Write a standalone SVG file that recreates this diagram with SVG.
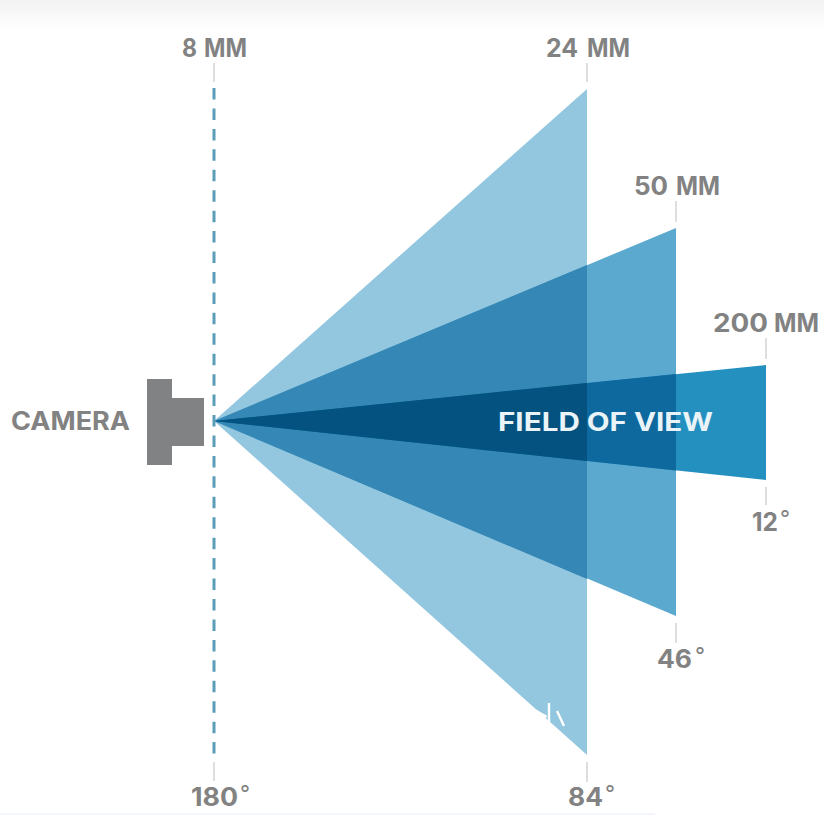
<svg xmlns="http://www.w3.org/2000/svg" width="824" height="815" viewBox="0 0 824 815">
<style>
.l{font-family:Inter,"Liberation Sans",sans-serif;font-weight:700;font-size:25px;fill:#828282}
.t{stroke:#d6d6d6;stroke-width:1.6;fill:none}
.d{font-size:22px;font-weight:400}
</style>
<defs><linearGradient id="top" x1="0" y1="0" x2="0" y2="1"><stop offset="0" stop-color="#f2f2f2"/><stop offset="1" stop-color="#ffffff"/></linearGradient></defs>
<rect width="824" height="815" fill="#ffffff"/>
<rect width="824" height="30" fill="url(#top)"/>
<rect y="813" width="655" height="2" fill="#f3f6fe"/>
<g id="fov-24mm"><polygon points="214,421 587,89 587,755" fill="#93c7df"/></g>
<g id="fov-50mm"><polygon points="214,421 676,228 676,616" fill="#5ca9cf"/><polygon points="214,421 587,265 587,579" fill="#3587b5"/></g>
<g id="fov-200mm"><polygon points="214,421 766,365 766,480" fill="#2490c0"/><polygon points="214,421 676,374 676,470.5" fill="#0e699f"/><polygon points="214,421 587,383 587,461" fill="#03527f"/></g>
<g id="artifact" fill="none" stroke="#ffffff"><path stroke-width="2.4" d="M549,703V722M557,711L564,726"/><path stroke-width="5" d="M528,708L546,718"/></g>
<g id="connectors">
<line x1="214" y1="88" x2="214" y2="755" stroke="#5b9db8" stroke-width="3" stroke-dasharray="11.5 8.94"/>
<path class="t" d="M214,63V82M587,63V82M676,201V222M766,338V359M766,487V505M676,623V643M587,762V782M214,762V781"/>
</g>
<g id="camera"><path d="M147,379H172V398H204V446H172V465H147Z" fill="#808283"/>
<text class="l" x="11" y="430" textLength="119" lengthAdjust="spacingAndGlyphs">CAMERA</text></g>
<g id="label-8mm"><text class="l" x="182" y="57" textLength="15" lengthAdjust="spacingAndGlyphs">8</text><text class="l" x="204" y="57" textLength="43" lengthAdjust="spacingAndGlyphs">MM</text></g>
<g id="label-24mm"><text class="l" x="546" y="57" textLength="32" lengthAdjust="spacingAndGlyphs">24</text><text class="l" x="587" y="57" textLength="43" lengthAdjust="spacingAndGlyphs">MM</text></g>
<g id="label-50mm"><text class="l" x="634" y="195" textLength="34" lengthAdjust="spacingAndGlyphs">50</text><text class="l" x="676" y="195" textLength="44" lengthAdjust="spacingAndGlyphs">MM</text></g>
<g id="label-200mm"><text class="l" x="713" y="332" textLength="55" lengthAdjust="spacingAndGlyphs">200</text><text class="l" x="774" y="332" textLength="45" lengthAdjust="spacingAndGlyphs">MM</text></g>
<g id="label-12"><text class="l" x="752" y="531" textLength="26" lengthAdjust="spacingAndGlyphs">12</text><text class="l d" x="780" y="526">°</text></g>
<g id="label-46"><text class="l" x="657" y="668" textLength="35" lengthAdjust="spacingAndGlyphs">46</text><text class="l d" x="695" y="663">°</text></g>
<g id="label-84"><text class="l" x="568" y="806" textLength="35" lengthAdjust="spacingAndGlyphs">84</text><text class="l d" x="605" y="801">°</text></g>
<g id="label-180"><text class="l" x="191" y="806" textLength="47" lengthAdjust="spacingAndGlyphs">180</text><text class="l d" x="240" y="801">°</text></g>
<g id="label-fov"><text class="l" x="498" y="431" textLength="215" lengthAdjust="spacingAndGlyphs" style="fill:#eaf4f8">FIELD OF VIEW</text></g>
</svg>
